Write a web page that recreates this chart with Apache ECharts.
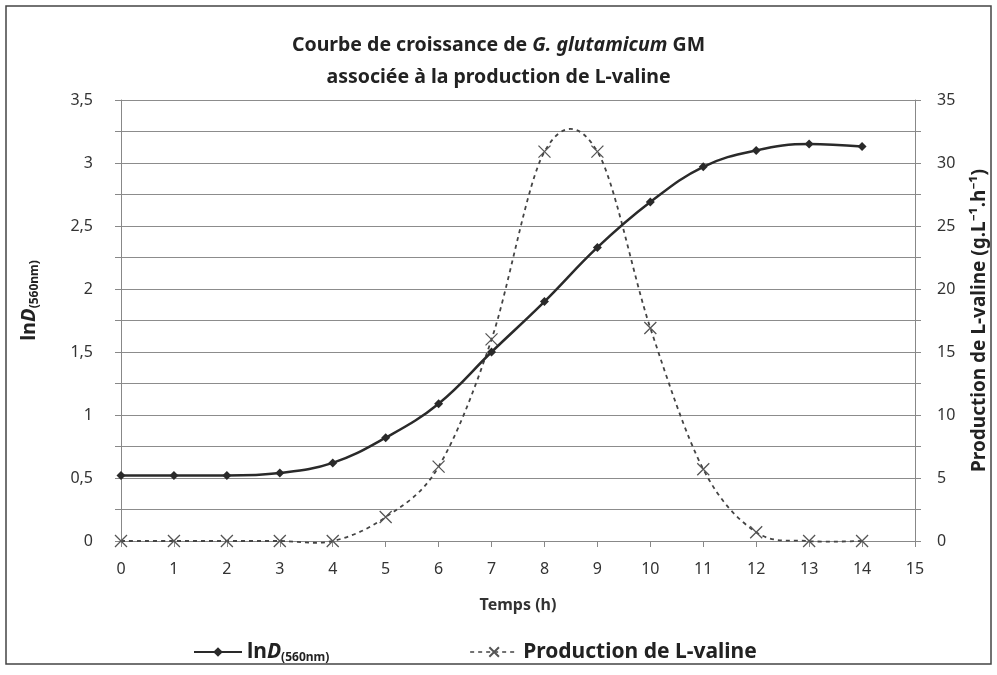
<!DOCTYPE html>
<html>
<head>
<meta charset="utf-8">
<script src="https://cdn.jsdelivr.net/npm/echarts@6/dist/echarts.min.js"></script>
<style>
  html, body { margin: 0; padding: 0; background: #fff; }
  #chart { width: 997px; height: 675px; }
</style>
</head>
<body>
<div id="chart"></div>
<script>
// temps (h)
const hours = [0, 1, 2, 3, 4, 5, 6, 7, 8, 9, 10, 11, 12, 13, 14]
// lnD(560nm)
const lnD = [0.52, 0.52, 0.52, 0.54, 0.62, 0.82, 1.09, 1.50, 1.90, 2.33, 2.69, 2.97, 3.10, 3.15, 3.13]
// production de L-valine (g.L-1.h-1)
const valine = [0, 0, 0, 0, 0, 1.9, 5.9, 16.0, 30.9, 30.9, 16.9, 5.7, 0.7, 0, 0]

const font = "'Noto Sans', 'Open Sans', sans-serif"
const crossPath = 'path://M0,0L10,10M10,0L0,10'

const chart = echarts.init(document.getElementById('chart'))

// etiquettes avec virgule, une sur deux seulement
function commaLabel(step) {
  return (v) => {
    const k = v / step
    if (Math.abs(k - Math.round(k)) > 1e-6) return ''
    return String(Math.round(v * 100) / 100).replace('.', ',')
  }
}

// courbe lissee facon tableur (catmull-rom, tension 1/6) sur les points projetes
function smoothPath(pts) {
  let d = 'M' + pts[0][0] + ',' + pts[0][1]
  for (let i = 0; i < pts.length - 1; i++) {
    const p0 = pts[Math.max(i - 1, 0)]
    const p1 = pts[i]
    const p2 = pts[i + 1]
    const p3 = pts[Math.min(i + 2, pts.length - 1)]
    const c1x = p1[0] + (p2[0] - p0[0]) / 6
    const c1y = p1[1] + (p2[1] - p0[1]) / 6
    const c2x = p2[0] - (p3[0] - p1[0]) / 6
    const c2y = p2[1] - (p3[1] - p1[1]) / 6
    d += 'C' + c1x + ',' + c1y + ',' + c2x + ',' + c2y + ',' + p2[0] + ',' + p2[1]
  }
  return d
}

const richName = {
  a: { fontFamily: font, fontWeight: 'bold', fontSize: 20, color: '#222' },
  b: { fontFamily: font, fontWeight: 'bold', fontStyle: 'italic', fontSize: 20, color: '#222' },
  s: { fontFamily: font, fontWeight: 'bold', fontSize: 12, color: '#222', padding: [12, 0, 0, 0] }
}

const legendRich = {
  a: { fontFamily: font, fontWeight: 'bold', fontSize: 21, color: '#222' },
  b: { fontFamily: font, fontWeight: 'bold', fontStyle: 'italic', fontSize: 21, color: '#222' },
  s: { fontFamily: font, fontWeight: 'bold', fontSize: 12, color: '#222', padding: [12, 0, 0, 0] }
}

const option = {
  backgroundColor: '#fff',
  animation: false,
  graphic: [{
    type: 'rect',
    shape: { x: 6, y: 6, width: 985, height: 658 },
    style: { fill: 'none', stroke: '#444', lineWidth: 1.5 }
  }],
  title: {
    left: 'center',
    top: 24,
    text: '{n|Courbe de croissance de }{i|G. glutamicum}{n| GM}\n{n|associée à la production de L-valine}',
    textStyle: {
      rich: {
        n: { fontFamily: font, fontWeight: 'bold', fontSize: 19.5, color: '#222', lineHeight: 32 },
        i: { fontFamily: font, fontWeight: 'bold', fontStyle: 'italic', fontSize: 19.5, color: '#222', lineHeight: 32 }
      }
    }
  },
  legend: {
    bottom: 6,
    left: 188,
    itemGap: 140,
    itemWidth: 48,
    itemHeight: 12,
    data: [
      { name: 'lnD' },
      { name: 'Production de L-valine', lineStyle: { color: '#444', width: 1.6, type: [4, 4], opacity: 1 } }
    ],
    formatter: (name) => name === 'lnD'
      ? '{a|ln}{b|D}{s|(560nm)}'
      : '{a|' + name + '}',
    textStyle: { rich: legendRich }
  },
  grid: { left: 121, right: 82, top: 100, bottom: 134 },
  xAxis: {
    type: 'value',
    min: 0,
    max: 15,
    interval: 1,
    name: 'Temps (h)',
    nameLocation: 'middle',
    nameGap: 56,
    nameTextStyle: { fontFamily: font, fontWeight: 'bold', fontSize: 16, color: '#333' },
    axisLine: { onZero: false, lineStyle: { color: '#888', width: 1 } },
    axisTick: { show: true, length: 6, lineStyle: { color: '#888' } },
    axisLabel: { fontFamily: font, fontSize: 16, color: '#333', margin: 20 },
    splitLine: { show: false }
  },
  yAxis: [{
    type: 'value',
    min: 0,
    max: 3.5,
    interval: 0.25,
    name: '{a|ln}{b|D}{s|(560nm)}',
    nameLocation: 'middle',
    nameRotate: 90,
    nameGap: 80,
    nameTextStyle: { rich: richName, padding: [0, 0, 0, 40] },
    axisLine: { show: true, lineStyle: { color: '#888', width: 1 } },
    axisTick: { show: true, length: 6, lineStyle: { color: '#888' } },
    axisLabel: { fontFamily: font, fontSize: 16, color: '#333', margin: 28, formatter: commaLabel(0.5) },
    splitLine: { show: true, lineStyle: { color: '#8c8c8c', width: 1.2 } }
  }, {
    type: 'value',
    min: 0,
    max: 35,
    interval: 2.5,
    position: 'right',
    name: 'Production de L-valine (g.L⁻¹.h⁻¹)',
    nameLocation: 'middle',
    nameRotate: 90,
    nameGap: 55,
    nameTextStyle: { fontFamily: font, fontWeight: 'bold', fontSize: 19, color: '#222' },
    axisLine: { show: true, lineStyle: { color: '#888', width: 1 } },
    axisTick: { show: true, length: 6, lineStyle: { color: '#888' } },
    axisLabel: { fontFamily: font, fontSize: 16, color: '#333', margin: 22, formatter: commaLabel(5) },
    splitLine: { show: false }
  }],
  series: [{
    name: 'lnD',
    type: 'line',
    yAxisIndex: 0,
    smooth: 0.4,
    data: hours.map((h, i) => [h, lnD[i]]),
    symbol: 'diamond',
    symbolSize: 9,
    lineStyle: { color: '#2a2a2a', width: 2.5 },
    itemStyle: { color: '#2a2a2a' },
    z: 3
  }, {
    name: 'Production de L-valine',
    type: 'line',
    yAxisIndex: 1,
    data: hours.map((h, i) => [h, valine[i]]),
    symbol: crossPath,
    symbolSize: 12,
    lineStyle: { opacity: 0 },
    itemStyle: { color: 'none', borderColor: '#555', borderWidth: 1.3 },
    z: 2
  }, {
    // trace lisse en pointilles de la production
    type: 'custom',
    yAxisIndex: 1,
    silent: true,
    data: [[0, 0]],
    renderItem: (params, api) => {
      const pts = hours.map((h, i) => api.coord([h, valine[i]]))
      return {
        type: 'path',
        shape: { pathData: smoothPath(pts) },
        style: { fill: 'none', stroke: '#444', lineWidth: 1.8, lineDash: [4, 4] }
      }
    },
    z: 2
  }]
}

chart.setOption(option)
</script>
</body>
</html>
